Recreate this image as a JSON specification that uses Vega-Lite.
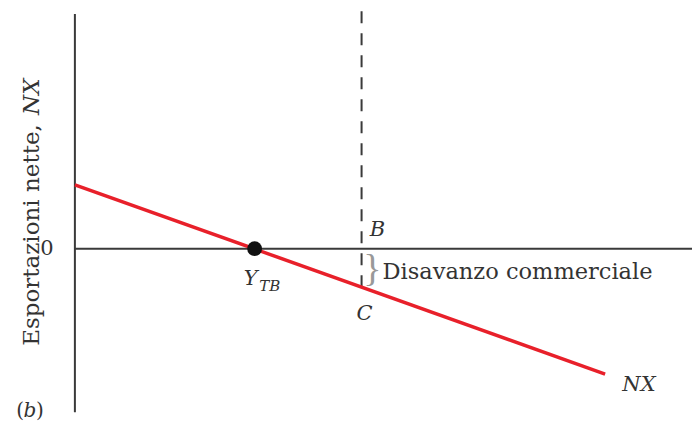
{
  "$schema": "https://vega.github.io/schema/vega-lite/v6.json",
  "width": 693,
  "height": 429,
  "autosize": {"type": "fit", "contains": "padding"},
  "padding": 0,
  "background": "white",
  "config": {"view": {"stroke": null}},
  "datasets": {
    "axes": [
      {"x": 0, "y": -5.5, "x2": 0, "y2": 7.9},
      {"x": 0, "y": 0, "x2": 20.6, "y2": 0}
    ],
    "dash": [{"x": 9.57, "y": -1.3, "x2": 9.57, "y2": 8.3}],
    "nx": [{"x": 0, "y": 2.15}, {"x": 17.7, "y": -4.22}],
    "pt": [{"x": 6.0, "y": 0}],
    "zero": [{"x": -0.93, "y": 0, "label": "0"}],
    "roman": [{"x": 10.27, "y": -0.77, "label": "Disavanzo commerciale"}],
    "italic": [
      {"x": 10.1, "y": 0.63, "label": "B"},
      {"x": 9.67, "y": -2.2, "label": "C"},
      {"x": 18.83, "y": -4.6, "label": "NX"}
    ],
    "ymain": [{"x": 6.1, "y": -1.03, "label": "Y"}],
    "sub": [{"x": 6.15, "y": -1.25, "label": "TB"}],
    "parenL": [{"x": -1.7, "y": -5.45, "label": "("}],
    "parenR": [{"x": -1.3, "y": -5.45, "label": ")"}],
    "bitalic": [{"x": -1.5, "y": -5.45, "label": "b"}],
    "brace": [{"x": 9.93, "y": -0.73, "label": "}"}],
    "ytitle": [{"x": -1.43, "y": -3.27, "label": "Esportazioni nette,"}],
    "ytitle2": [{"x": -1.43, "y": 4.5, "label": "NX"}]
  },
  "encoding": {
    "x": {"field": "x", "type": "quantitative", "scale": {"domain": [-2.5, 20.6], "nice": false, "zero": false}, "axis": null},
    "y": {"field": "y", "type": "quantitative", "scale": {"domain": [-6.067, 8.233], "nice": false, "zero": false}, "axis": null}
  },
  "layer": [
    {
      "data": {"name": "axes"},
      "mark": {"type": "rule", "color": "#3a3a3a", "strokeWidth": 2},
      "encoding": {"x2": {"field": "x2"}, "y2": {"field": "y2"}}
    },
    {
      "data": {"name": "dash"},
      "mark": {"type": "rule", "color": "#3a3a3a", "strokeWidth": 2, "strokeDash": [12, 10]},
      "encoding": {"x2": {"field": "x2"}, "y2": {"field": "y2"}}
    },
    {
      "data": {"name": "nx"},
      "mark": {"type": "line", "color": "#e8202a", "strokeWidth": 3.5},
      "encoding": {}
    },
    {
      "data": {"name": "pt"},
      "mark": {"type": "point", "filled": true, "color": "#111", "size": 220, "opacity": 1},
      "encoding": {}
    },
    {
      "data": {"name": "zero"},
      "mark": {"type": "text", "font": "DejaVu Serif", "fontSize": 21, "color": "#333", "baseline": "middle", "align": "center"},
      "encoding": {"text": {"field": "label"}}
    },
    {
      "data": {"name": "roman"},
      "mark": {"type": "text", "font": "DejaVu Serif", "fontSize": 22.5, "color": "#333", "baseline": "middle", "align": "left"},
      "encoding": {"text": {"field": "label"}}
    },
    {
      "data": {"name": "italic"},
      "mark": {"type": "text", "font": "DejaVu Serif", "fontStyle": "italic", "fontSize": 21, "color": "#333", "baseline": "middle", "align": "center"},
      "encoding": {"text": {"field": "label"}}
    },
    {
      "data": {"name": "ymain"},
      "mark": {"type": "text", "font": "DejaVu Serif", "fontStyle": "italic", "fontSize": 21, "color": "#333", "baseline": "middle", "align": "right"},
      "encoding": {"text": {"field": "label"}}
    },
    {
      "data": {"name": "sub"},
      "mark": {"type": "text", "font": "DejaVu Serif", "fontStyle": "italic", "fontSize": 15, "color": "#333", "baseline": "middle", "align": "left"},
      "encoding": {"text": {"field": "label"}}
    },
    {
      "data": {"name": "parenL"},
      "mark": {"type": "text", "font": "DejaVu Serif", "fontSize": 20, "color": "#333", "baseline": "middle", "align": "right"},
      "encoding": {"text": {"field": "label"}}
    },
    {
      "data": {"name": "parenR"},
      "mark": {"type": "text", "font": "DejaVu Serif", "fontSize": 20, "color": "#333", "baseline": "middle", "align": "left"},
      "encoding": {"text": {"field": "label"}}
    },
    {
      "data": {"name": "bitalic"},
      "mark": {"type": "text", "font": "DejaVu Serif", "fontStyle": "italic", "fontSize": 20, "color": "#333", "baseline": "middle", "align": "center"},
      "encoding": {"text": {"field": "label"}}
    },
    {
      "data": {"name": "brace"},
      "mark": {"type": "text", "font": "Liberation Serif", "fontSize": 38, "color": "#999", "baseline": "middle", "align": "center"},
      "encoding": {"text": {"field": "label"}}
    },
    {
      "data": {"name": "ytitle"},
      "mark": {"type": "text", "font": "DejaVu Serif", "fontSize": 23, "color": "#333", "baseline": "middle", "align": "left", "angle": 270},
      "encoding": {"text": {"field": "label"}}
    },
    {
      "data": {"name": "ytitle2"},
      "mark": {"type": "text", "font": "DejaVu Serif", "fontStyle": "italic", "fontSize": 23, "color": "#333", "baseline": "middle", "align": "left", "angle": 270},
      "encoding": {"text": {"field": "label"}}
    }
  ]
}
